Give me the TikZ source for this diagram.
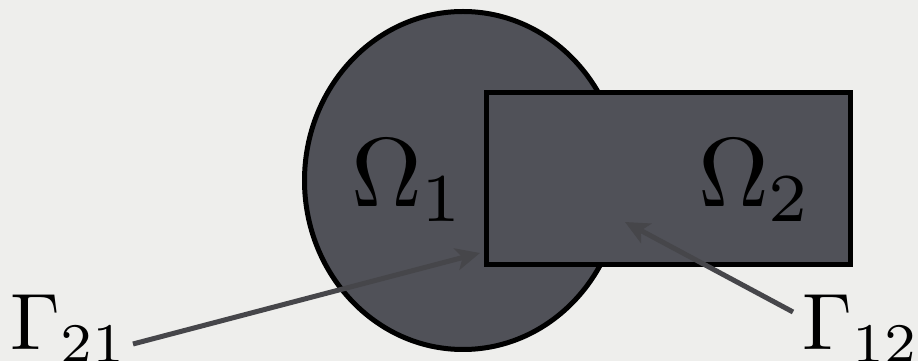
\documentclass[tikz,border=0pt]{standalone}
\usepackage{graphicx}
\usepackage{tikz}
\usetikzlibrary{arrows.meta,shapes.geometric}
\definecolor{pbg}{HTML}{EEEEEC}
\definecolor{pslate}{HTML}{505158}
\definecolor{pgrayd}{HTML}{46464A}
% large math label, scaled from the 10pt design size
\newcommand{\biglbl}[2]{\scalebox{#1}{$#2$}}
\tikzset{
  % dark filled subdomain with a heavy black outline
  region/.style = {draw=black, line width=5pt, fill=pslate, inner sep=0pt},
  dom/.style    = {inner sep=0pt, anchor=base west},
  iface/.style  = {inner sep=0pt, anchor=base west},
  ptr/.style    = {-{Stealth[length=24pt,width=22pt,inset=6pt]}, line width=5pt, pgrayd},
}
\begin{document}
\begin{tikzpicture}[x=1pt,y=1pt]
\fill[pbg] (0,0) rectangle (918,361);
\useasboundingbox (0,0) rectangle (918,361);
% subdomains
\node[region, ellipse, minimum width=317pt, minimum height=338pt] (om1) at (463,180.5) {};
\node[region, rectangle, minimum width=363.5pt, minimum height=172pt] (om2) at (668.25,182) {};
% domain labels
\node[dom] (lom1) at (351,154) {\biglbl{9.8}{\Omega_1}};
\node[dom] (lom2) at (698,154) {\biglbl{9.8}{\Omega_2}};
% interface labels
\node[iface] (g21) at (10,11) {\biglbl{8}{\Gamma_{21}}};
\node[iface] (g12) at (802,11) {\biglbl{8}{\Gamma_{12}}};
% pointers to the interfaces
\coordinate (tail21) at (133,17);
\coordinate (tip21)  at (480,108);
\coordinate (tail12) at (793,49);
\coordinate (tip12)  at (625,139);
\draw[ptr] (tail21) -- (tip21);
\draw[ptr] (tail12) -- (tip12);
\end{tikzpicture}
\end{document}
